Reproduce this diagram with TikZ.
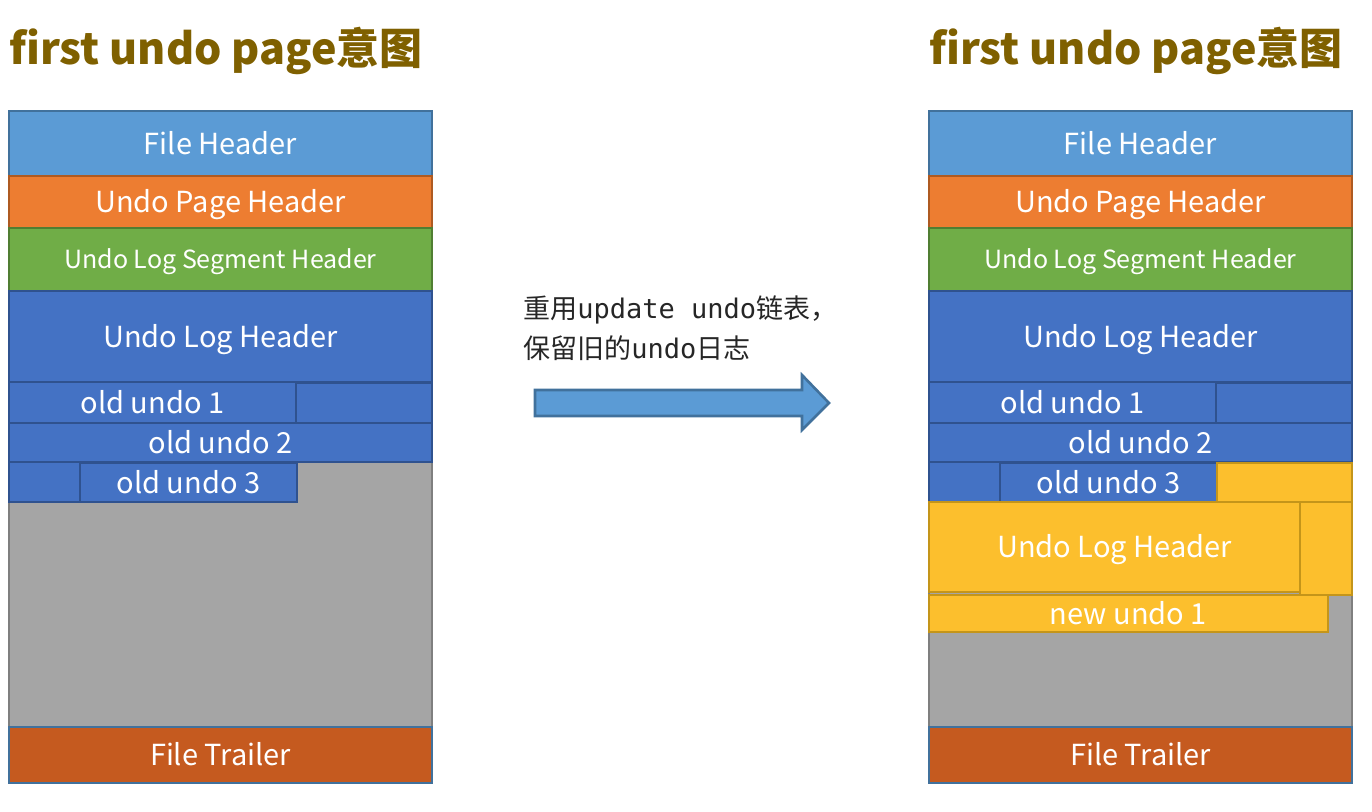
\documentclass[tikz,border=0pt]{standalone}
\usepackage{fontspec}
\setmainfont{Noto Sans CJK SC}
\newfontfamily\cjk{Noto Sans CJK SC}
\newfontfamily\monof{DejaVu Sans Mono}
\usetikzlibrary{fit}
\definecolor{fhfill}{HTML}{5B9BD5}
\definecolor{fhdraw}{HTML}{41719C}
\definecolor{upfill}{HTML}{ED7D31}
\definecolor{updraw}{HTML}{AE5A21}
\definecolor{sgfill}{HTML}{70AD47}
\definecolor{sgdraw}{HTML}{507E32}
\definecolor{blfill}{HTML}{4472C4}
\definecolor{bldraw}{HTML}{2F528F}
\definecolor{grfill}{HTML}{A5A5A5}
\definecolor{grdraw}{HTML}{7F7F7F}
\definecolor{trfill}{HTML}{C55A1F}
\definecolor{ylfill}{HTML}{FCBF2D}
\definecolor{yldraw}{HTML}{C4951A}
\definecolor{titlecol}{HTML}{7F6000}
\newcommand\undopanel[2]{%
  \node[grblk, fit={({#2+9},462) ({#2+432},727)}] (#1gray) {};
  \node[blk, fill=fhfill, draw=fhdraw, fit={({#2+9},111) ({#2+432},176)}] (#1fh) {};
  \node[lbl] (#1fhtext) at (#1fh.center) {File Header};
  \node[blk, fill=upfill, draw=updraw, fit={({#2+9},176) ({#2+432},228)}] (#1uph) {};
  \node[lbl] (#1uphtext) at (#1uph.center) {Undo Page Header};
  \node[blk, fill=sgfill, draw=sgdraw, fit={({#2+9},228) ({#2+432},291)}] (#1seg) {};
  \node[lbl, font=\fontsize{12.5}{15}\selectfont, text height=9.1pt] (#1segtext) at (#1seg.center) {Undo Log Segment Header};
  \node[blblk, fit={({#2+9},291) ({#2+432},382)}] (#1ulh) {};
  \node[lbl] (#1ulhtext) at (#1ulh.center) {Undo Log Header};
  \node[blblk, fit={({#2+296},383) ({#2+432},423)}] (#1padone) {};
  \node[blblk, fit={({#2+9},382) ({#2+296},423)}] (#1oldone) {};
  \node[lbl] (#1oldonetext) at (#1oldone.center) {old undo 1};
  \node[blblk, fit={({#2+9},423) ({#2+432},462)}] (#1oldtwo) {};
  \node[lbl] (#1oldtwotext) at (#1oldtwo.center) {old undo 2};
  \node[blblk, fit={({#2+9},462) ({#2+80},502)}] (#1padthree) {};
  \node[blblk, fit={({#2+80},463) ({#2+297},502)}] (#1oldthree) {};
  \node[lbl] (#1oldthreetext) at (#1oldthree.center) {old undo 3};
  \node[blk, fill=trfill, draw=fhdraw, fit={({#2+9},727) ({#2+432},783)}] (#1ft) {};
  \node[lbl] (#1fttext) at (#1ft.center) {File Trailer};
  \node[title, anchor=west] (#1title) at ({#2+9},51) {first undo page意图};
}
\begin{document}
\begin{tikzpicture}[x=0.5pt,y=-0.5pt,
  blk/.style={inner sep=0pt, line width=1.3pt},
  lbl/.style={inner sep=0pt, text=white, font=\fontsize{14.5}{17}\selectfont, text height=10.6pt, text depth=0pt},
  blblk/.style={blk, fill=blfill, draw=bldraw},
  grblk/.style={blk, fill=grfill, draw=grdraw},
  ylblk/.style={blk, fill=ylfill, draw=yldraw},
  title/.style={text=titlecol, font=\fontsize{21.5}{25}\selectfont\bfseries, inner sep=0pt},
  note/.style={font=\fontsize{13.5}{20}\selectfont, align=left, inner sep=0pt, text=black!85},
  bigarrow/.style={fill=fhfill, draw=fhdraw, line width=1.3pt}]
\useasboundingbox (0,0) rectangle (1372,812);
\undopanel{L}{0}
\undopanel{R}{920}
% new undo log in the right page
\node[ylblk, fit={(1217,463) (1352,502)}] (Rylpad) {};
\node[ylblk, fit={(1300,502) (1352,595)}] (Rylside) {};
\node[ylblk, fit={(929,502) (1300,592)}] (Rnewulh) {};
\node[lbl] (Rnewulhtext) at (Rnewulh.center) {Undo Log Header};
\node[ylblk, fit={(929,595) (1328,632)}] (Rnewone) {};
\node[lbl] (Rnewonetext) at (Rnewone.center) {new undo 1};
% note and arrow
\node[note, anchor=west] (note) at (523,328) {重用{\monof update undo}链表，\\保留旧的{\monof undo}日志};
\draw[bigarrow] (535,390) -- (802,390) -- (802,375) -- (829,403) -- (802,430) -- (802,416) -- (535,416) -- cycle;
\end{tikzpicture}
\end{document}
